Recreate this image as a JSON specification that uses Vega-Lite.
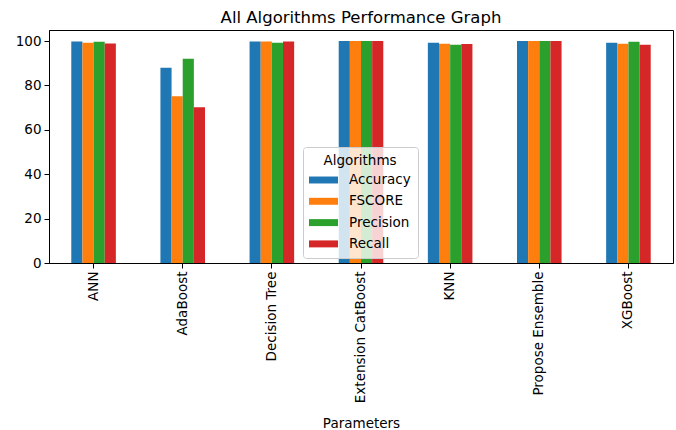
{
  "$schema": "https://vega.github.io/schema/vega-lite/v6.json",
  "autosize": "none",
  "width": 624,
  "height": 233,
  "padding": {"left": 49, "top": 30, "right": 3, "bottom": 167},
  "background": "white",
  "title": {
    "text": "All Algorithms Performance Graph",
    "font": "DejaVu Sans",
    "fontSize": 16.5,
    "fontWeight": "normal",
    "color": "#000",
    "baseline": "alphabetic",
    "offset": -9,
    "anchor": "middle"
  },
  "data": {
    "values": [
      {"Parameters": "ANN", "Algorithm": "Accuracy", "value": 99.8},
      {"Parameters": "ANN", "Algorithm": "FSCORE", "value": 99.3},
      {"Parameters": "ANN", "Algorithm": "Precision", "value": 99.7},
      {"Parameters": "ANN", "Algorithm": "Recall", "value": 98.9},
      {"Parameters": "AdaBoost", "Algorithm": "Accuracy", "value": 88.0},
      {"Parameters": "AdaBoost", "Algorithm": "FSCORE", "value": 75.2},
      {"Parameters": "AdaBoost", "Algorithm": "Precision", "value": 92.0},
      {"Parameters": "AdaBoost", "Algorithm": "Recall", "value": 70.2},
      {"Parameters": "Decision Tree", "Algorithm": "Accuracy", "value": 99.8},
      {"Parameters": "Decision Tree", "Algorithm": "FSCORE", "value": 99.8},
      {"Parameters": "Decision Tree", "Algorithm": "Precision", "value": 99.2},
      {"Parameters": "Decision Tree", "Algorithm": "Recall", "value": 99.8},
      {"Parameters": "Extension CatBoost", "Algorithm": "Accuracy", "value": 100},
      {"Parameters": "Extension CatBoost", "Algorithm": "FSCORE", "value": 100},
      {"Parameters": "Extension CatBoost", "Algorithm": "Precision", "value": 100},
      {"Parameters": "Extension CatBoost", "Algorithm": "Recall", "value": 100},
      {"Parameters": "KNN", "Algorithm": "Accuracy", "value": 99.2},
      {"Parameters": "KNN", "Algorithm": "FSCORE", "value": 98.8},
      {"Parameters": "KNN", "Algorithm": "Precision", "value": 98.3},
      {"Parameters": "KNN", "Algorithm": "Recall", "value": 98.7},
      {"Parameters": "Propose Ensemble", "Algorithm": "Accuracy", "value": 100},
      {"Parameters": "Propose Ensemble", "Algorithm": "FSCORE", "value": 100},
      {"Parameters": "Propose Ensemble", "Algorithm": "Precision", "value": 100},
      {"Parameters": "Propose Ensemble", "Algorithm": "Recall", "value": 100},
      {"Parameters": "XGBoost", "Algorithm": "Accuracy", "value": 99.2},
      {"Parameters": "XGBoost", "Algorithm": "FSCORE", "value": 98.8},
      {"Parameters": "XGBoost", "Algorithm": "Precision", "value": 99.7},
      {"Parameters": "XGBoost", "Algorithm": "Recall", "value": 98.3}
    ]
  },
  "mark": {"type": "bar"},
  "encoding": {
    "x": {
      "field": "Parameters",
      "type": "nominal",
      "sort": ["ANN", "AdaBoost", "Decision Tree", "Extension CatBoost", "KNN", "Propose Ensemble", "XGBoost"],
      "scale": {"paddingInner": 0.5, "paddingOuter": 0.25},
      "axis": {
        "title": "Parameters",
        "labelAngle": -90,
        "labelPadding": 3,
        "titlePadding": 14
      }
    },
    "xOffset": {
      "field": "Algorithm",
      "type": "nominal",
      "sort": ["Accuracy", "FSCORE", "Precision", "Recall"],
      "scale": {"paddingInner": 0, "paddingOuter": 0}
    },
    "y": {
      "field": "value",
      "type": "quantitative",
      "scale": {"domain": [0, 105], "nice": false, "zero": true},
      "axis": {
        "title": null,
        "values": [0, 20, 40, 60, 80, 100],
        "grid": false,
        "labelPadding": 3
      }
    },
    "color": {
      "field": "Algorithm",
      "type": "nominal",
      "sort": ["Accuracy", "FSCORE", "Precision", "Recall"],
      "scale": {
        "domain": ["Accuracy", "FSCORE", "Precision", "Recall"],
        "range": ["#1f77b4", "#ff7f0e", "#2ca02c", "#d62728"]
      },
      "legend": {
        "title": "Algorithms",
        "orient": "none",
        "legendX": 254,
        "legendY": 117,
        "symbolType": "M-2,-0.48H2V0.48H-2Z",
        "symbolSize": 210,
        "symbolStrokeWidth": 0,
        "symbolOffset": 6,
        "labelOffset": 18,
        "rowPadding": 7.3,
        "padding": 7,
        "titlePadding": 5,
        "titleAnchor": "middle",
        "titleAlign": "center",
        "fillColor": "rgba(255,255,255,0.8)",
        "strokeColor": "#cccccc",
        "cornerRadius": 3
      }
    }
  },
  "config": {
    "font": "DejaVu Sans",
    "view": {"stroke": "#000", "strokeWidth": 1},
    "axis": {
      "labelFont": "DejaVu Sans",
      "labelFontSize": 13.5,
      "labelColor": "#000",
      "titleFont": "DejaVu Sans",
      "titleFontSize": 13.5,
      "titleFontWeight": "normal",
      "titleColor": "#000",
      "domainColor": "#000",
      "tickColor": "#000",
      "tickSize": 5
    },
    "legend": {
      "labelFont": "DejaVu Sans",
      "labelFontSize": 13.5,
      "labelColor": "#000",
      "titleFont": "DejaVu Sans",
      "titleFontSize": 13.5,
      "titleFontWeight": "normal",
      "titleColor": "#000"
    }
  }
}
